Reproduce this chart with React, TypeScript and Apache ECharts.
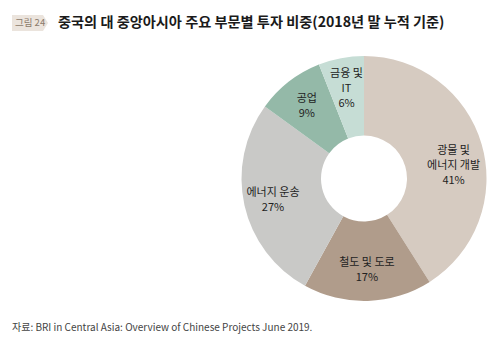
import React, { useEffect, useRef } from "react";
import * as echarts from "echarts";

const categories = ["광물 및\n에너지 개발", "철도 및 도로", "에너지 운송", "공업", "금융 및\nIT"];
const values = [41, 17, 27, 9, 6];
const colors = ["#d6cbc1", "#b09c8b", "#c9c9c7", "#94b9a8", "#c6ddd5"];

const FONT = "'Noto Sans CJK KR', 'Noto Sans', sans-serif";

export default function App() {
  const ref = useRef<HTMLDivElement>(null);
  useEffect(() => {
    const chart = echarts.init(ref.current!, null, { renderer: "svg" });
    const common = {
      type: "pie",
      center: [364, 178.5],
      startAngle: 90,
      clockwise: true,
      avoidLabelOverlap: false,
      labelLine: { show: false },
      emphasis: { disabled: true },
      silent: true,
    };
    const labelOffsets: number[][] = [[0, 12], [0, -3], [0, 0], [0, 0], [0, 0]];
    chart.setOption({
      animation: false,
      backgroundColor: "#ffffff",
      graphic: [
        {
          type: "polygon",
          shape: { points: [[12, 15], [43, 15], [48, 23], [43, 31], [12, 31]] },
          style: { fill: "#ebe4dd" },
        },
        {
          type: "text",
          left: 15,
          top: 17.5,
          style: { text: "그림 24", font: `9.5px ${FONT}`, fill: "#8c7b6b" },
        },
        {
          type: "text",
          left: 58,
          top: 14,
          style: {
            text: "중국의 대 중앙아시아 주요 부문별 투자 비중(2018년 말 누적 기준)",
            font: `bold 14.2px ${FONT}`,
            fill: "#1a1a1a",
          },
        },
        {
          type: "text",
          left: 12,
          top: 321,
          style: {
            text: "자료: BRI in Central Asia: Overview of Chinese Projects June 2019.",
            font: `10px ${FONT}`,
            fill: "#444444",
          },
        },
      ],
      series: [
        {
          ...common,
          radius: [43, 122.5],
          itemStyle: { borderWidth: 0 },
          label: { show: false },
          data: categories.map((c, i) => ({
            name: c,
            value: values[i],
            itemStyle: { color: colors[i] },
          })),
        },
        {
          ...common,
          radius: [58, 122.5],
          itemStyle: { color: "rgba(0,0,0,0)", borderWidth: 0 },
          label: {
            show: true,
            position: "inside",
            formatter: (p: any) => `${p.name}\n${p.value}%`,
            fontFamily: FONT,
            fontSize: 11,
            lineHeight: 15,
            color: "#222222",
          },
          data: categories.map((c, i) => ({
            name: c,
            value: values[i],
            label: { offset: labelOffsets[i] },
          })),
        },
      ],
    });
    return () => chart.dispose();
  }, []);
  return <div ref={ref} style={{ width: 502, height: 349, margin: -8 }} />;
}
